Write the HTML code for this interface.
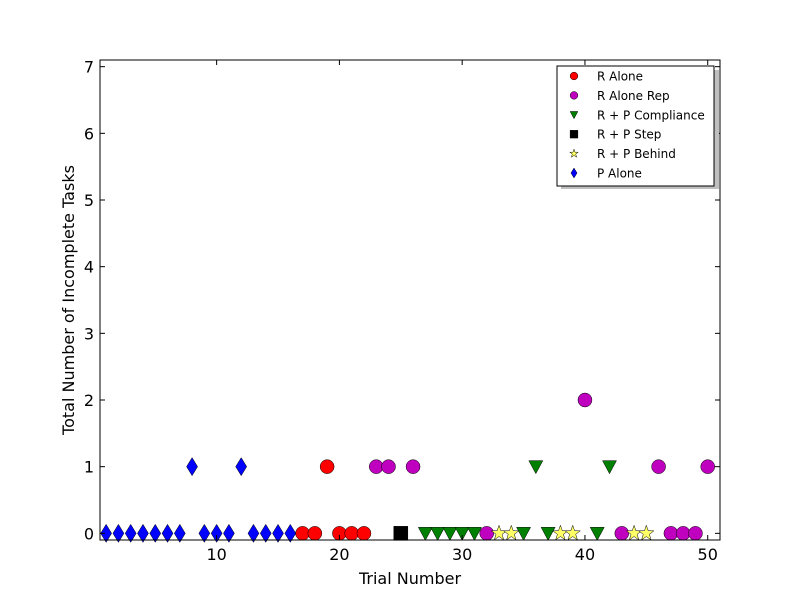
<!DOCTYPE html>
<html><head><meta charset="utf-8"><style>
body{margin:0;background:#fff;}
svg{display:block;font-family:"DejaVu Sans","Liberation Sans",sans-serif;}
</style></head><body>
<svg id="chart" width="800" height="600">
<rect width="800" height="600" fill="#fff"/>
<g id="marks"></g>
<rect x="100" y="60" width="620" height="480" fill="none" stroke="#000" stroke-width="1"/>
<g id="ticks"></g>
<text x="410" y="584" text-anchor="middle" font-size="16">Trial Number</text>
<text transform="translate(74,300) rotate(-90)" text-anchor="middle" font-size="16">Total Number of Incomplete Tasks</text>
<g id="legend"></g>
</svg>
<script>
const pAloneX=[1,2,3,4,5,6,7,8,9,10,11,12,13,14,15,16];
const pAloneY=[0,0,0,0,0,0,0,1,0,0,0,1,0,0,0,0];
const rAloneX=[17,18,19,20,21,22];
const rAloneY=[0,0,1,0,0,0];
const rRepX=[23,24,26,32,40,43,46,47,48,49,50];
const rRepY=[1,1,1,0,2,0,1,0,0,0,1];
const stepX=[25];
const stepY=[0];
const compX=[27,28,29,30,31,35,36,37,41,42];
const compY=[0,0,0,0,0,0,1,0,0,1];
const behindX=[33,34,38,39,44,45];
const behindY=[0,0,0,0,0,0];
const xTicks=[10,20,30,40,50];
const yTicks=[0,1,2,3,4,5,6,7];
const seriesNames=["R Alone","R Alone Rep","R + P Compliance","R + P Step","R + P Behind","P Alone"];

const NS="http://www.w3.org/2000/svg";
const X0=0.5,X1=51,Y0=-0.1,Y1=7.1;
const sx=v=>100+(v-X0)/(X1-X0)*620;
const sy=v=>540-(v-Y0)/(Y1-Y0)*480;
function mk(tag,attrs,parent){const e=document.createElementNS(NS,tag);for(const k in attrs)e.setAttribute(k,attrs[k]);parent.appendChild(e);return e;}
function marker(shape,cx,cy,s,parent){
  let e;
  if(shape==="circle")e=mk("circle",{cx:cx,cy:cy,r:7*s,fill:"",stroke:"#000","stroke-width":0.5},parent);
  else if(shape==="tri")e=mk("polygon",{points:`${cx-7*s},${cy-6*s} ${cx+7*s},${cy-6*s} ${cx},${cy+7*s}`,stroke:"#000","stroke-width":0.5},parent);
  else if(shape==="square")e=mk("rect",{x:cx-7*s,y:cy-7*s,width:14*s,height:14*s,stroke:"#000","stroke-width":0.5},parent);
  else if(shape==="diamond")e=mk("polygon",{points:`${cx},${cy-9*s} ${cx+5.5*s},${cy} ${cx},${cy+9*s} ${cx-5.5*s},${cy}`,stroke:"#000","stroke-width":0.5},parent);
  else {let p=[];for(let i=0;i<10;i++){const r=i%2?3.2*s:8*s;const a=-Math.PI/2+i*Math.PI/5;p.push((cx+r*Math.cos(a)).toFixed(1)+","+(cy+r*Math.sin(a)).toFixed(1));}
    e=mk("polygon",{points:p.join(" "),stroke:"#000","stroke-width":0.5},parent);}
  return e;
}
const series=[
 {xs:rAloneX,ys:rAloneY,shape:"circle",color:"#ff0000",name:"r-alone"},
 {xs:rRepX,ys:rRepY,shape:"circle",color:"#bf00bf",name:"r-alone-rep"},
 {xs:compX,ys:compY,shape:"tri",color:"#008000",name:"rp-compliance"},
 {xs:stepX,ys:stepY,shape:"square",color:"#000000",name:"rp-step"},
 {xs:behindX,ys:behindY,shape:"star",color:"#ffff66",name:"rp-behind"},
 {xs:pAloneX,ys:pAloneY,shape:"diamond",color:"#0000ff",name:"p-alone"}
];
const marks=document.getElementById("marks");
series.forEach(s=>{
  s.xs.forEach((x,i)=>{
    const e=marker(s.shape,sx(x),sy(s.ys[i]),1,marks);
    e.setAttribute("fill",s.color);
    
    
  });
});
const tk=document.getElementById("ticks");
xTicks.forEach(t=>{
  const x=sx(t);
  mk("line",{x1:x,y1:540,x2:x,y2:535,stroke:"#000"},tk);
  mk("line",{x1:x,y1:60,x2:x,y2:65,stroke:"#000"},tk);
  const e=mk("text",{x:x,y:560,"text-anchor":"middle","font-size":16},tk);e.textContent=t;
  
  
});
yTicks.forEach(t=>{
  const y=sy(t);
  mk("line",{x1:100,y1:y,x2:105,y2:y,stroke:"#000"},tk);
  mk("line",{x1:720,y1:y,x2:715,y2:y,stroke:"#000"},tk);
  const e=mk("text",{x:94,y:y+6,"text-anchor":"end","font-size":16},tk);e.textContent=t;
  
  
});
const lg=document.getElementById("legend");
mk("rect",{x:561,y:70,width:158,height:119,fill:"#bfbfbf"},lg);
mk("rect",{x:557,y:66,width:157,height:120,fill:"#fff",stroke:"#000"},lg);
series.forEach((s,i)=>{
  const y=76+i*19.4;
  const m=marker(s.shape,574,y,0.55,lg);
  m.setAttribute("fill",s.color);
  const e=mk("text",{x:597,y:y+4.5,"font-size":12},lg);e.textContent=seriesNames[i];
  
  
});
</script>
</body></html>
